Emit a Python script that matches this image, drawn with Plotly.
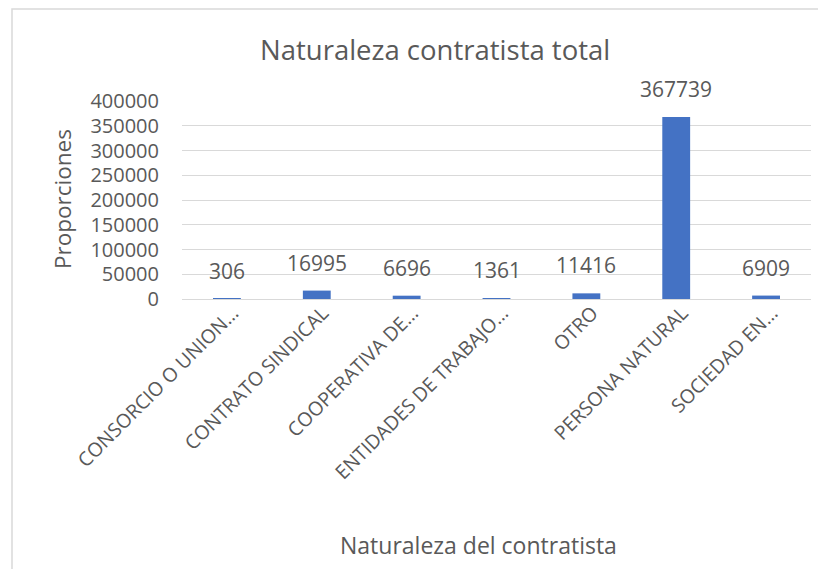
import plotly.graph_objects as go

categories = ["CONSORCIO O UNION…", "CONTRATO SINDICAL", "COOPERATIVA DE…",
              "ENTIDADES DE TRABAJO…", "OTRO", "PERSONA NATURAL", "SOCIEDAD EN…"]
values = [306, 16995, 6696, 1361, 11416, 367739, 6909]
y_ticks = [0, 50000, 100000, 150000, 200000, 250000, 300000, 350000, 400000]

FONT = "Open Sans"
GRAY = "#595959"

# the page body has an 8px margin; the figure is placed at (8, 8)
OFF = 8
W, H = 826 - OFF, 569 - OFF
PLOT_L, PLOT_R, PLOT_T, PLOT_B = 182, 811, 101, 299   # page pixels
L, T = PLOT_L - OFF, PLOT_T - OFF
R, B = W - (PLOT_R - OFF), H - (PLOT_B - OFF)
pw, ph = PLOT_R - PLOT_L, PLOT_B - PLOT_T

def px(x):
    return (x - PLOT_L) / pw

def py(y):
    return (PLOT_B - y) / ph

fig = go.Figure()
fig.add_trace(go.Bar(x=categories, y=values, marker_color="#4472C4",
                     marker_line_width=0, hoverinfo="x+y"))

annotations = []
for c, v in zip(categories, values):
    annotations.append(dict(x=c, y=v, xref="x", yref="y", text=str(v),
                            showarrow=False, yanchor="bottom", yshift=12,
                            font=dict(family=FONT, size=21, color=GRAY)))
annotations.append(dict(x=px(435), y=py(49), xref="paper", yref="paper",
                        text="Naturaleza contratista total", showarrow=False,
                        xanchor="center", yanchor="middle",
                        font=dict(family=FONT, size=27.5, color=GRAY)))
annotations.append(dict(x=px(478), y=py(545), xref="paper", yref="paper",
                        text="Naturaleza del contratista", showarrow=False,
                        xanchor="center", yanchor="middle",
                        font=dict(family=FONT, size=23, color=GRAY)))
annotations.append(dict(x=px(62), y=py(199), xref="paper", yref="paper",
                        text="Proporciones", showarrow=False, textangle=-90,
                        xanchor="center", yanchor="middle",
                        font=dict(family=FONT, size=22.5, color=GRAY)))

fig.update_layout(
    width=W, height=H,
    margin=dict(l=L, r=R, t=T, b=B, autoexpand=False),
    paper_bgcolor="white", plot_bgcolor="white",
    bargap=0.69, showlegend=False,
    annotations=annotations,
    shapes=[dict(type="rect", xref="paper", yref="paper",
                 x0=px(12), x1=px(850), y0=py(590), y1=py(9),
                 line=dict(color="#D9D9D9", width=1.5), layer="below")],
)
fig.update_xaxes(type="category", tickangle=-45, showgrid=False,
                 showline=True, linecolor="#D9D9D9", linewidth=1,
                 tickfont=dict(family=FONT, size=19.5, color=GRAY),
                 ticks="", ticklabelstandoff=-6, ticklabelshift=6,
                 automargin=False)
fig.update_yaxes(range=[0, 400000], tickvals=y_ticks,
                 ticktext=[str(v) for v in y_ticks],
                 showgrid=True, gridcolor="#D9D9D9", gridwidth=1,
                 zeroline=True, zerolinecolor="#D9D9D9", zerolinewidth=1,
                 showline=False, ticks="", ticklabelstandoff=22,
                 tickfont=dict(family=FONT, size=20, color=GRAY),
                 automargin=False)

fig.write_html("out.html")
